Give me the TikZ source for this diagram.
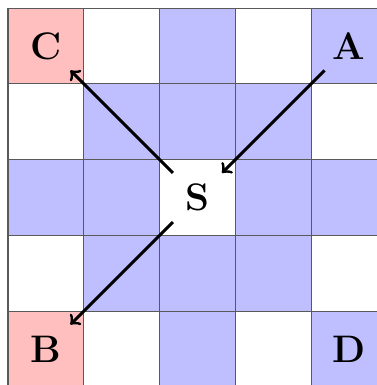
\documentclass[tikz,border=0pt]{standalone}
\definecolor{cellblue}{RGB}{191,191,255}
\definecolor{cellred}{RGB}{255,191,191}
\tikzset{
  lbl/.style={rectangle, minimum size=0.633cm, inner sep=0pt, font=\Large\bfseries},
  arr/.style={->, line width=1.1pt, black},
  gridline/.style={black!65, line width=0.4pt}
}
\begin{document}
\begin{tikzpicture}
\useasboundingbox (-0.1055,0.1055) rectangle (4.868,-4.974);
% cells: (col,row) with row counted from the top
\foreach \c/\r in {2/0,4/0, 1/1,2/1,3/1, 0/2,1/2,3/2,4/2, 1/3,2/3,3/3, 2/4,4/4}
  \fill[cellblue] (\c,-\r) rectangle ++(1,-1);
\foreach \c/\r in {0/0,0/4}
  \fill[cellred] (\c,-\r) rectangle ++(1,-1);
\draw[gridline] (0,-5) grid (5,0);
\node[lbl] (C) at (0.5,-0.5) {C};
\node[lbl] (A) at (4.5,-0.5) {A};
\node[lbl] (S) at (2.5,-2.5) {S};
\node[lbl] (B) at (0.5,-4.5) {B};
\node[lbl] (D) at (4.5,-4.5) {D};
\draw[arr] (S) -- (C);
\draw[arr] (A) -- (S);
\draw[arr] (S) -- (B);
\end{tikzpicture}
\end{document}
